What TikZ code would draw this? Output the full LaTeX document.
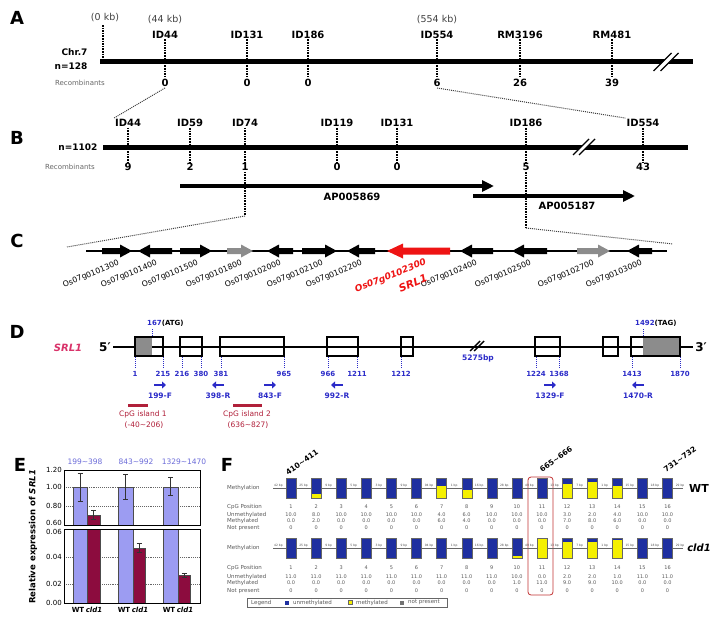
\documentclass[tikz,border=0pt]{standalone}
\usepackage{fontspec}
\setmainfont{DejaVu Sans}
\usepackage{xcolor}
\usepackage{tikz}
\usetikzlibrary{calc, arrows.meta, positioning}

\definecolor{srlred}{HTML}{EE1414}
\definecolor{srlpink}{HTML}{D9336A}
\definecolor{dnablue}{HTML}{2B2BC8}
\definecolor{cpgred}{HTML}{B0203A}
\definecolor{wtblue}{HTML}{9C9CF2}
\definecolor{cldred}{HTML}{8C0C3E}
\definecolor{unmeth}{HTML}{1E2FA0}
\definecolor{meth}{HTML}{F5F000}

\begin{document}
\begin{tikzpicture}[x=1pt, y=-1pt, >=latex]
	\tikzstyle{panel} = [font=\fontsize{18}{20}\selectfont\bfseries, inner sep=0pt]
	\tikzstyle{marker} = [font=\fontsize{10}{12}\selectfont\bfseries, inner sep=1pt]
	\tikzstyle{kb} = [font=\fontsize{9.5}{11}\selectfont, text=black!75, inner sep=1pt]
	\tikzstyle{recnum} = [font=\fontsize{10}{12}\selectfont\bfseries, inner sep=1pt]
	\tikzstyle{reclabel} = [font=\fontsize{7}{8}\selectfont, text=black!60, inner sep=0pt]
	\tikzstyle{chrom} = [line width=5pt]
	\tikzstyle{tick} = [densely dotted, line width=1.6pt]
	\tikzstyle{zoomline} = [densely dotted, line width=1pt, black!75]
	\tikzstyle{genelabel} = [font=\fontsize{7.8}{9}\selectfont, anchor=east, rotate=22, inner sep=0pt]
	\tikzstyle{exon} = [draw=black, fill=white, line width=1.5pt]
	\tikzstyle{posnum} = [font=\fontsize{7}{8}\selectfont\bfseries, text=dnablue, inner sep=0pt]
	\tikzstyle{dtick} = [densely dotted, line width=1pt, dnablue]
	\tikzstyle{primer} = [line width=2.6pt, dnablue, -{Triangle[length=4pt, width=7pt]}]
	\tikzstyle{cpg} = [font=\fontsize{7.5}{9}\selectfont, text=cpgred, inner sep=0pt]
	\tikzstyle{axnum} = [font=\fontsize{7}{8}\selectfont, anchor=east, inner sep=1pt]
	\tikzstyle{grid} = [densely dotted, line width=0.9pt, black!60]
	\tikzstyle{errbar} = [line width=0.8pt, black!80]
	\tikzstyle{ftext} = [font=\fontsize{5}{5}\selectfont, text=black!65, inner sep=0pt]
	\tikzstyle{flabel} = [font=\fontsize{5.5}{6}\selectfont, text=black!65, anchor=west, inner sep=0pt]
	\tikzstyle{gaptext} = [font=\fontsize{3}{3}\selectfont, text=black!70, anchor=south, inner sep=0.3pt]
	\tikzstyle{boxline} = [draw=black!60, line width=0.4pt]
	\tikzstyle{site} = [font=\fontsize{7.5}{9}\selectfont\bfseries, rotate=35, inner sep=0pt]

	\useasboundingbox (0,0) rectangle (723,624);

	% A
	\node[panel] at (17,18) (pa) {A};
	\draw[chrom] (100,61) -- (693,61);
	\node[anchor=east, font=\fontsize{9}{10}\selectfont\bfseries] at (91,52) (chr) {Chr.7};
	\node[anchor=east, font=\fontsize{9}{10}\selectfont\bfseries] at (91,66) (na) {n=128};
	\node[reclabel] at (80,83) (reca) {Recombinants};
	\node[kb] at (105,18) (kb0) {(0 kb)};
	\draw[tick] (103,25) -- (103,60);
	\node[kb] at (165,20) (kb44) {(44 kb)};
	\node[kb] at (437,20) (kb554) {(554 kb)};
	\foreach \x/\name/\n/\id in {165/ID44/0/a1, 247/ID131/0/a2, 308/ID186/0/a3, 437/ID554/6/a4, 520/RM3196/26/a5, 612/RM481/39/a6} {
		\node[marker] at (\x,34.5) (\id) {\name};
		\node[recnum] at (\x,83) (\id n) {\n};
		\draw[tick] (\id.south) -- (\id n.north);
	}

	% B
	\node[panel] at (17,138) (pb) {B};
	\draw[chrom] (103,147) -- (688,147);
	\node[anchor=east, font=\fontsize{9}{10}\selectfont\bfseries] at (101,147) (nb) {n=1102};
	\node[reclabel] at (70,167) (recb) {Recombinants};
	\foreach \x/\name/\n/\id in {128/ID44/9/b1, 190/ID59/2/b2, 245/ID74/1/b3, 337/ID119/0/b4, 397/ID131/0/b5, 526/ID186/5/b6, 643/ID554/43/b7} {
		\node[marker] at (\x,123) (\id) {\name};
		\node[recnum] at (\x,167) (\id n) {\n};
		\draw[tick] (\id.south) -- (\id n.north);
	}
	\draw[zoomline] (a1n.south) -- (b1.north west);
	\draw[zoomline] (a4n.south) -- (b7.north west);

	\coordinate (ap1s) at (180,186);
	\coordinate (ap1e) at (494,186);
	\coordinate (ap2s) at (473,196);
	\coordinate (ap2e) at (635,196);
	\draw[line width=4pt, -{Triangle[length=12pt, width=11pt]}] (ap1s) -- (ap1e);
	\draw[line width=4pt, -{Triangle[length=12pt, width=11pt]}] (ap2s) -- (ap2e);
	\node[marker] at (352,197) (ap1) {AP005869};
	\node[marker] at (567,206) (ap2) {AP005187};

	% break marks
	\foreach \bx/\by/\bs/\bg in {666/62/9/3.5, 584/147/8/3, 477/346/5/2} {
		\fill[white] (\bx-\bs-\bg,\by+\bs) -- (\bx+\bs-\bg,\by-\bs) -- (\bx+\bs+\bg,\by-\bs) -- (\bx-\bs+\bg,\by+\bs) -- cycle;
		\draw[line width=1.4pt] (\bx-\bs-\bg,\by+\bs) -- (\bx+\bs-\bg,\by-\bs);
		\draw[line width=1.4pt] (\bx-\bs+\bg,\by+\bs) -- (\bx+\bs+\bg,\by-\bs);
	}

	% B -> C
	\coordinate (b3d) at (245,216);
	\coordinate (b6d) at (526,228);
	\coordinate (cL) at (67,247);
	\coordinate (cR) at (673,244);
	\draw[tick] (b3n.south) -- (b3d);
	\draw[tick] (b6n.south) -- (b6d);
	\draw[zoomline] (b3d) -- (cL);
	\draw[zoomline] (b6d) -- (cR);

	% C
	\node[panel] at (17,241) (pc) {C};
	\draw[line width=1.5pt] (86,251) -- (667,251);
	\foreach \a/\b/\c in {102/132/black, 180/212/black, 227/253/black!45, 302/337/black, 577/610/black!45}
		\fill[\c] (\a,248) -- (\b-12,248) -- (\b-12,244.5) -- (\b,251) -- (\b-12,257.5) -- (\b-12,254) -- (\a,254) -- cycle;
	\foreach \a/\b in {138/172, 267/293, 347/375, 460/493, 512/547, 627/652}
		\fill (\b,248) -- (\a+12,248) -- (\a+12,244.5) -- (\a,251) -- (\a+12,257.5) -- (\a+12,254) -- (\b,254) -- cycle;
	\fill[srlred] (450,247.5) -- (387+16,247.5) -- (387+16,243.5) -- (387,251) -- (387+16,258.5) -- (387+16,254.5) -- (450,254.5) -- cycle;
	\foreach \x/\name [count=\k] in {119/Os07g0101300, 157/Os07g0101400, 198/Os07g0101500, 242/Os07g0101800, 281/Os07g0102000, 323/Os07g0102100, 362/Os07g0102200, 477/Os07g0102400, 531/Os07g0102500, 594/Os07g0102700, 642/Os07g0103000}
		\node[genelabel] at (\x,263) (g\k) {\name};
	\node[genelabel, font=\fontsize{9}{10}\selectfont\bfseries\itshape, text=srlred] at (426,262) (gsrl) {Os07g0102300};
	\node[font=\fontsize{10.5}{11}\selectfont\bfseries\itshape, text=srlred, rotate=22, inner sep=0pt] at (413,283) (srlc) {SRL1};

	% D
	\node[panel] at (17,332) (pd) {D};
	\node[font=\fontsize{10}{11}\selectfont\bfseries\itshape, text=srlpink] at (68,348) (srld) {SRL1};
	\node[font=\fontsize{12}{13}\selectfont\bfseries] at (105,347) (five) {5′};
	\node[font=\fontsize{12}{13}\selectfont\bfseries] at (701,347) (three) {3′};
	\draw[line width=1.4pt] (113,347) -- (693,347);
	\fill[black!45] (135,337) rectangle (152,356);
	\fill[black!45] (643,337) rectangle (680,356);
	\foreach \a/\b in {135/163, 180/202, 220/284, 327/358, 401/413, 535/560, 603/618, 631/680}
		\draw[line width=1.5pt] (\a,337) rectangle (\b,356);
	\draw[exon, fill=none] (135,337) rectangle (163,356);
	\node[font=\fontsize{7.5}{9}\selectfont\bfseries, text=dnablue] at (478,358) (bp) {5275bp};
	\foreach \x/\t in {135/1, 163/215, 182/216, 201/380, 221/381, 284/965, 328/966, 357/1211, 401/1212, 536/1224, 559/1368, 632/1413, 680/1870} {
		\draw[dtick] (\x,357) -- (\x,368);
		\node[posnum] at (\x,374) (p\t) {\t};
	}
	\draw[dtick] (152,336) -- (152,328);
	\draw[dtick] (643,336) -- (643,328);
	\node[font=\fontsize{7}{8}\selectfont\bfseries, anchor=west, inner sep=0pt] at (147,323) (atg) {\textcolor{dnablue}{167}(ATG)};
	\node[font=\fontsize{7}{8}\selectfont\bfseries, anchor=west, inner sep=0pt] at (635,323) (tag) {\textcolor{dnablue}{1492}(TAG)};
	\foreach \x/\t/\d in {160/199-F/1, 218/398-R/-1, 270/843-F/1, 337/992-R/-1, 550/1329-F/1, 638/1470-R/-1} {
		\draw[primer] (\x-6*\d,385) -- (\x+6*\d,385);
		\node[posnum, font=\fontsize{7.5}{9}\selectfont\bfseries] at (\x,396) (pr\t) {\t};
	}
	\draw[cpgred, line width=3pt] (128,405) -- (148,405);
	\draw[cpgred, line width=3pt] (233,405) -- (262,405);
	\node[cpg] at (143,414) (cpg1) {CpG island 1};
	\node[cpg] at (144,425) (cpg1r) {(-40\textasciitilde206)};
	\node[cpg] at (247,414) (cpg2) {CpG island 2};
	\node[cpg] at (248,425) (cpg2r) {(636\textasciitilde827)};

	% E
	\node[panel] at (20,465) (pe) {E};
	\foreach \x/\t [count=\k] in {85/199\textasciitilde398, 136/843\textasciitilde992, 184/1329\textasciitilde1470}
		\node[font=\fontsize{7.5}{9}\selectfont, text=dnablue!70, inner sep=0pt] at (\x,462) (amp\k) {\t};
	\foreach \y in {487, 506, 557, 584}
		\draw[grid] (64,\y) -- (200,\y);
	\foreach \a/\b/\top in {73/87/487, 118/133/487, 163/178/487}
		\draw[fill=wtblue, draw=black!70, line width=0.5pt] (\a,\top) rectangle (\b,603);
	\foreach \a/\b/\top in {87/100/515, 133/145/548, 178/190/575}
		\draw[fill=cldred, draw=black!70, line width=0.5pt] (\a,\top) rectangle (\b,603);
	\fill[white] (55,525) rectangle (205,529.5);
	\draw[line width=0.8pt] (64,470) rectangle (200,525);
	\draw[line width=0.8pt] (64,529.5) rectangle (200,603);
	\foreach \x/\lo/\hi in {80/501/473, 125.5/499/474, 170.5/495/477, 93.5/519/510, 139/552/543, 184/577/573} {
		\draw[errbar] (\x,\lo) -- (\x,\hi);
		\draw[errbar] (\x-2.5,\lo) -- (\x+2.5,\lo);
		\draw[errbar] (\x-2.5,\hi) -- (\x+2.5,\hi);
	}
	\foreach \y/\t [count=\k] in {470/1.20, 487/1.00, 506/0.80, 522.5/0.60, 531.5/0.06, 557/0.04, 584/0.02, 603/0.00}
		\node[axnum] at (63,\y) (yt\k) {\t};
	\node[font=\fontsize{8.5}{10}\selectfont\bfseries, rotate=90, inner sep=0pt] at (33,537) (ylab) {Relative expression of \textit{SRL1}};
	\foreach \x/\t/\s [count=\k] in {78/WT/\upshape, 94/cld1/\itshape, 124/WT/\upshape, 140/cld1/\itshape, 169/WT/\upshape, 185/cld1/\itshape}
		\node[font=\fontsize{7}{8}\selectfont\bfseries\s, inner sep=0pt] at (\x,610) (xl\k) {\t};

	% F
	\node[panel] at (227,465) (pf) {F};
	\node[site] at (302,462) (s1) {410\textasciitilde411};
	\node[site] at (556,459) (s2) {665\textasciitilde666};
	\node[site] at (680,459) (s3) {731\textasciitilde732};
	\draw[red!70!black!80, line width=0.8pt, rounded corners=3pt] (528,477) rectangle (553,595);

	% WT
	\draw[black!60, line width=0.6pt] (273,488) -- (683,488);
	\foreach \g [count=\k] in {42,25,9,5,3,9,94,1,16,28,49,13,7,1,15,18,29}
		\node[gaptext] at (291+25.1*\k-37.65,487.2) (wtgap\k) {\g\ bp};
	\foreach \i/\u/\m in {1/10.0/0.0, 2/8.0/2.0, 3/10.0/0.0, 4/10.0/0.0, 5/10.0/0.0, 6/10.0/0.0, 7/4.0/6.0, 8/6.0/4.0, 9/10.0/0.0, 10/10.0/0.0, 11/10.0/0.0, 12/3.0/7.0, 13/2.0/8.0, 14/4.0/6.0, 15/10.0/0.0, 16/10.0/0.0} {
		\pgfmathsetmacro{\cx}{291+25.1*(\i-1)}
		\pgfmathsetmacro{\hy}{20*\m/(\u+\m)}
		\fill[unmeth] (\cx-5,478) rectangle (\cx+5,498);
		\fill[meth] (\cx-5,498-\hy) rectangle (\cx+5,498);
		\draw[boxline] (\cx-5,478) rectangle (\cx+5,498);
		\node[ftext] at (\cx,507) (wtpos\i) {\i};
		\node[ftext] at (\cx,515) (wtun\i) {\u};
		\node[ftext] at (\cx,521) (wtme\i) {\m};
		\node[ftext] at (\cx,528) (wtnp\i) {0};
	}
	\node[flabel] at (227,488) (wtmeth) {Methylation};
	\node[flabel] at (227,507) (wtcpg) {CpG Position};
	\node[flabel] at (227,515) (wtunm) {Unmethylated};
	\node[flabel] at (227,521) (wtmet) {Methylated};
	\node[flabel] at (227,528) (wtnot) {Not present};
	\node[font=\fontsize{11}{12}\selectfont\bfseries, inner sep=0pt] at (699,488) (wt) {WT};

	% cld1
	\draw[black!60, line width=0.6pt] (273,548) -- (683,548);
	\foreach \g [count=\k] in {42,25,9,5,3,9,94,1,16,28,49,13,7,1,15,18,29}
		\node[gaptext] at (291+25.1*\k-37.65,547.2) (cdgap\k) {\g\ bp};
	\foreach \i/\u/\m in {1/11.0/0.0, 2/11.0/0.0, 3/11.0/0.0, 4/11.0/0.0, 5/11.0/0.0, 6/11.0/0.0, 7/11.0/0.0, 8/11.0/0.0, 9/11.0/0.0, 10/10.0/1.0, 11/0.0/11.0, 12/2.0/9.0, 13/2.0/9.0, 14/1.0/10.0, 15/11.0/0.0, 16/11.0/0.0} {
		\pgfmathsetmacro{\cx}{291+25.1*(\i-1)}
		\pgfmathsetmacro{\hy}{20*\m/(\u+\m)}
		\fill[unmeth] (\cx-5,538) rectangle (\cx+5,558);
		\fill[meth] (\cx-5,558-\hy) rectangle (\cx+5,558);
		\draw[boxline] (\cx-5,538) rectangle (\cx+5,558);
		\node[ftext] at (\cx,568) (cdpos\i) {\i};
		\node[ftext] at (\cx,577) (cdun\i) {\u};
		\node[ftext] at (\cx,583) (cdme\i) {\m};
		\node[ftext] at (\cx,591) (cdnp\i) {0};
	}
	\node[flabel] at (227,548) (cdmeth) {Methylation};
	\node[flabel] at (227,568) (cdcpg) {CpG Position};
	\node[flabel] at (227,577) (cdunm) {Unmethylated};
	\node[flabel] at (227,583) (cdmet) {Methylated};
	\node[flabel] at (227,591) (cdnot) {Not present};
	\node[font=\fontsize{10}{12}\selectfont\bfseries\itshape, inner sep=0pt] at (699,548) (cld) {cld1};

	% legend
	\draw[black!60, line width=0.6pt] (247,598) rectangle (447,607);
	\node[flabel] at (251,602.5) (leg) {Legend};
	\fill[unmeth] (285,600.5) rectangle (289,604.5);
	\node[flabel] at (293,602.5) (legu) {unmethylated};
	\fill[meth] (348,600.5) rectangle (352,604.5);
	\draw[black!60, line width=0.3pt] (348,600.5) rectangle (352,604.5);
	\node[flabel] at (356,602.5) (legm) {methylated};
	\fill[black!55] (400,600.5) rectangle (404,604.5);
	\node[flabel] at (408,602.5) (legn) {not present};
\end{tikzpicture}
\end{document}
